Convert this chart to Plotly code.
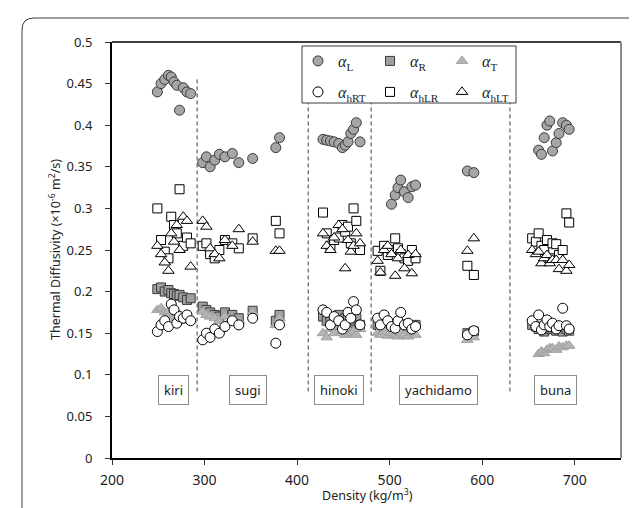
import plotly.graph_objects as go

# ---------------- data ----------------
kiri_density = [249, 253, 257, 261, 264, 267, 270, 273, 277, 281, 285]
kiri_aL   = [0.440, 0.450, 0.455, 0.460, 0.458, 0.452, 0.448, 0.418, 0.445, 0.440, 0.438]
kiri_aR   = [0.203, 0.205, 0.200, 0.202, 0.198, 0.197, 0.195, 0.196, 0.193, 0.190, 0.192]
kiri_aT   = [0.178, 0.180, 0.175, 0.176, 0.172, 0.170, 0.168, 0.172, 0.168, 0.165, 0.166]
kiri_ahRT = [0.152, 0.160, 0.165, 0.158, 0.185, 0.178, 0.162, 0.170, 0.168, 0.172, 0.165]
kiri_ahLR = [0.300, 0.262, 0.248, 0.240, 0.290, 0.280, 0.270, 0.323, 0.255, 0.265, 0.258]
kiri_ahLT = [0.255, 0.245, 0.235, 0.225, 0.270, 0.260, 0.280, 0.250, 0.290, 0.285, 0.230]

sugi_density = [298, 302, 306, 311, 316, 322, 330, 337, 352, 377, 381]
sugi_aL   = [0.355, 0.362, 0.350, 0.358, 0.365, 0.362, 0.366, 0.355, 0.360, 0.373, 0.385]
sugi_aR   = [0.182, 0.178, 0.175, 0.172, 0.170, 0.175, 0.172, 0.168, 0.177, 0.165, 0.172]
sugi_aT   = [0.176, 0.172, 0.170, 0.168, 0.165, 0.170, 0.168, 0.165, 0.175, 0.160, 0.168]
sugi_ahRT = [0.142, 0.150, 0.145, 0.155, 0.150, 0.158, 0.165, 0.160, 0.168, 0.138, 0.160]
sugi_ahLR = [0.255, 0.258, 0.245, 0.240, 0.250, 0.262, 0.258, 0.252, 0.264, 0.285, 0.270]
sugi_ahLT = [0.285, 0.278, 0.252, 0.245, 0.240, 0.262, 0.255, 0.275, 0.260, 0.249, 0.249]

hinoki_density = [428, 432, 436, 440, 445, 449, 452, 455, 458, 461, 464, 468]
hinoki_aL   = [0.383, 0.382, 0.381, 0.380, 0.378, 0.373, 0.376, 0.380, 0.390, 0.395, 0.403, 0.380]
hinoki_aR   = [0.170, 0.165, 0.168, 0.160, 0.172, 0.165, 0.168, 0.170, 0.162, 0.165, 0.168, 0.160]
hinoki_aT   = [0.150, 0.145, 0.155, 0.150, 0.158, 0.152, 0.148, 0.155, 0.150, 0.152, 0.148, 0.155]
hinoki_ahRT = [0.178, 0.175, 0.160, 0.170, 0.165, 0.155, 0.160, 0.175, 0.168, 0.188, 0.178, 0.160]
hinoki_ahLR = [0.295, 0.270, 0.255, 0.262, 0.265, 0.280, 0.272, 0.278, 0.258, 0.300, 0.285, 0.250]
hinoki_ahLT = [0.270, 0.255, 0.250, 0.265, 0.280, 0.275, 0.228, 0.262, 0.248, 0.255, 0.270, 0.258]

yachidamo_density = [487, 490, 494, 498, 502, 506, 509, 512, 516, 520, 524, 528, 584, 591]
yachidamo_aL   = [None, None, None, None, 0.305, 0.316, 0.325, 0.334, 0.320, 0.313, 0.326, 0.328, 0.345, 0.343]
yachidamo_aR   = [0.160, 0.158, 0.162, 0.155, 0.160, 0.158, 0.155, 0.160, 0.157, 0.155, 0.158, 0.160, 0.150, 0.152]
yachidamo_aT   = [0.150, 0.148, 0.152, 0.147, 0.150, 0.148, 0.146, 0.150, 0.148, 0.146, 0.150, 0.148, 0.142, 0.145]
yachidamo_ahRT = [0.168, 0.160, 0.172, 0.165, 0.158, 0.156, 0.165, 0.175, 0.160, 0.162, 0.155, 0.158, 0.148, 0.153]
yachidamo_ahLR = [0.249, 0.225, 0.255, 0.244, 0.250, 0.264, 0.252, 0.245, 0.240, 0.237, 0.250, 0.240, 0.231, 0.220]
yachidamo_ahLT = [0.237, 0.223, 0.250, 0.255, 0.245, 0.219, 0.240, 0.250, 0.228, 0.244, 0.222, 0.245, 0.249, 0.264]

buna_density = [654, 658, 661, 664, 667, 670, 673, 676, 680, 683, 687, 691, 694]
buna_aL   = [None, None, 0.370, 0.365, 0.385, 0.400, 0.405, 0.369, 0.379, 0.390, 0.403, 0.400, 0.395]
buna_aR   = [0.160, 0.158, 0.155, 0.157, 0.152, 0.155, 0.158, 0.155, 0.153, 0.156, 0.152, 0.155, 0.153]
buna_aT   = [None, None, 0.125, 0.128, 0.126, 0.130, 0.132, 0.132, 0.130, 0.134, 0.133, 0.135, 0.135]
buna_ahRT = [0.165, 0.158, 0.172, 0.154, 0.160, 0.166, 0.158, 0.162, 0.155, 0.159, 0.180, 0.159, 0.155]
buna_ahLR = [0.264, 0.260, 0.270, 0.255, 0.250, 0.262, 0.240, 0.258, 0.257, 0.244, 0.250, 0.294, 0.283]
buna_ahLT = [0.250, 0.245, 0.248, 0.234, 0.240, 0.244, 0.234, 0.238, 0.238, 0.227, 0.238, 0.225, 0.232]

species_names = ["kiri", "sugi", "hinoki", "yachidamo", "buna"]
species_label_x = [266, 347, 445, 553, 679]
species_label_y = 0.082
divider_x = [292, 412, 480, 630]
divider_top = [0.458, 0.427, 0.427, 0.427]
divider_bottom = 0.08

x_ticks = [200, 300, 400, 500, 600, 700]
y_ticks = [0, 0.05, 0.1, 0.15, 0.2, 0.25, 0.3, 0.35, 0.4, 0.45, 0.5]
y_tick_labels = ["0", "0.05", "0.1", "0.15", "0.2", "0.25", "0.3", "0.35", "0.4", "0.45", "0.5"]

series_names = ["<i>α</i><sub>L</sub>", "<i>α</i><sub>R</sub>", "<i>α</i><sub>T</sub>",
                "<i>α</i><sub>hRT</sub>", "<i>α</i><sub>hLR</sub>", "<i>α</i><sub>hLT</sub>"]

# ---------------- assemble ----------------
groups = [
    (kiri_density, [kiri_aL, kiri_aR, kiri_aT, kiri_ahRT, kiri_ahLR, kiri_ahLT]),
    (sugi_density, [sugi_aL, sugi_aR, sugi_aT, sugi_ahRT, sugi_ahLR, sugi_ahLT]),
    (hinoki_density, [hinoki_aL, hinoki_aR, hinoki_aT, hinoki_ahRT, hinoki_ahLR, hinoki_ahLT]),
    (yachidamo_density, [yachidamo_aL, yachidamo_aR, yachidamo_aT, yachidamo_ahRT, yachidamo_ahLR, yachidamo_ahLT]),
    (buna_density, [buna_aL, buna_aR, buna_aT, buna_ahRT, buna_ahLR, buna_ahLT]),
]

styles = [
    dict(symbol="circle", size=10, color="#a6a6a6", line=dict(color="#3a3a3a", width=1)),
    dict(symbol="square", size=9, color="#a0a0a0", line=dict(color="#3a3a3a", width=1)),
    dict(symbol="triangle-up", size=10, color="#b4b4b4", line=dict(color="#a0a0a0", width=1)),
    dict(symbol="circle", size=10, color="white", line=dict(color="black", width=1)),
    dict(symbol="square", size=9, color="white", line=dict(color="black", width=1)),
    dict(symbol="triangle-up", size=10, color="white", line=dict(color="black", width=1)),
]

fig = go.Figure()
for k in range(6):
    xs, ys = [], []
    for dens, vals in groups:
        for d, v in zip(dens, vals[k]):
            if v is not None:
                xs.append(d)
                ys.append(v)
    fig.add_trace(go.Scatter(
        x=xs, y=ys, mode="markers", name=series_names[k],
        marker=styles[k], legend="legend" if k < 3 else "legend2",
        hoverinfo="skip"))

W, H = 637, 508
ml, mr, mt, mb = 104, 24, 34, 58
pw, ph = W - ml - mr, H - mt - mb

def px_x(p):
    return (p - ml) / pw

def px_y(p):
    return (H - mb - p) / ph

shapes = []
# outer rounded frame
L, R, T, B = px_x(14), px_x(635), px_y(10), px_y(520)
rx, ry = 12 / pw, 12 / ph
shapes.append(dict(type="path", xref="paper", yref="paper",
                   path=f"M {L},{B} L {L},{T-ry} Q {L},{T} {L+rx},{T} L {R-rx},{T} Q {R},{T} {R},{T-ry} L {R},{B}",
                   line=dict(color="#3c3c3c", width=1)))
# plot frame (top black, right gray)
shapes.append(dict(type="line", xref="paper", yref="paper", x0=0, x1=1, y0=1, y1=1,
                   line=dict(color="black", width=1.5)))
shapes.append(dict(type="line", xref="paper", yref="paper", x0=1, x1=1, y0=0, y1=1,
                   line=dict(color="#8c8c8c", width=2)))
# dividers
for xv, top in zip(divider_x, divider_top):
    shapes.append(dict(type="line", xref="x", yref="y", x0=xv, x1=xv, y0=divider_bottom, y1=top,
                       line=dict(color="#404040", width=1, dash="4px,3px"), layer="below"))
# legend box
shapes.append(dict(type="rect", xref="paper", yref="paper",
                   x0=px_x(294), x1=px_x(508), y0=px_y(95), y1=px_y(38),
                   line=dict(color="#3c3c3c", width=1), fillcolor="white", layer="above"))

annotations = []
for name, xv in zip(species_names, species_label_x):
    annotations.append(dict(x=xv, y=species_label_y, xref="x", yref="y", text=name,
                            showarrow=False, font=dict(family="Noto Sans", size=13, color="#222"),
                            bordercolor="#8c8c8c", borderwidth=1, borderpad=5, bgcolor="white"))
annotations.append(dict(x=px_x(359), y=px_y(498), xref="paper", yref="paper",
                        text="Density (kg/m<sup>3</sup>)", showarrow=False,
                        font=dict(family="Noto Sans", size=12.5, color="#222")))
annotations.append(dict(x=px_x(36), y=px_y(242), xref="paper", yref="paper", textangle=-90,
                        text="Thermal Diffusivity (×10<sup>-6</sup> m<sup>2</sup>/s)", showarrow=False,
                        font=dict(family="Noto Sans", size=12.5, color="#222")))

legend_common = dict(orientation="h", xanchor="left", yanchor="middle",
                     bgcolor="rgba(0,0,0,0)", borderwidth=0, entrywidth=27, itemwidth=30,
                     font=dict(family="Liberation Serif", size=16, color="#222"))

fig.update_layout(
    width=W, height=H, margin=dict(l=ml, r=mr, t=mt, b=mb),
    paper_bgcolor="white", plot_bgcolor="white",
    showlegend=True,
    legend=dict(x=px_x(290), y=px_y(53), **legend_common),
    legend2=dict(x=px_x(290), y=px_y(84), **legend_common),
    xaxis=dict(range=[200, 750], tickvals=x_ticks, ticks="outside", ticklen=5, tickcolor="#333",
               showline=True, linecolor="black", linewidth=2, showgrid=False, zeroline=False,
               ticklabelstandoff=3, tickfont=dict(family="Noto Sans", size=14, color="#222")),
    yaxis=dict(range=[0, 0.5], tickvals=y_ticks, ticktext=y_tick_labels, ticks="outside", ticklen=5,
               tickcolor="#333", showline=True, linecolor="black", linewidth=2, showgrid=False,
               zeroline=False, ticklabelstandoff=10,
               tickfont=dict(family="Noto Sans", size=13, color="#222")),
    shapes=shapes, annotations=annotations,
)

fig.write_html("out.html")
